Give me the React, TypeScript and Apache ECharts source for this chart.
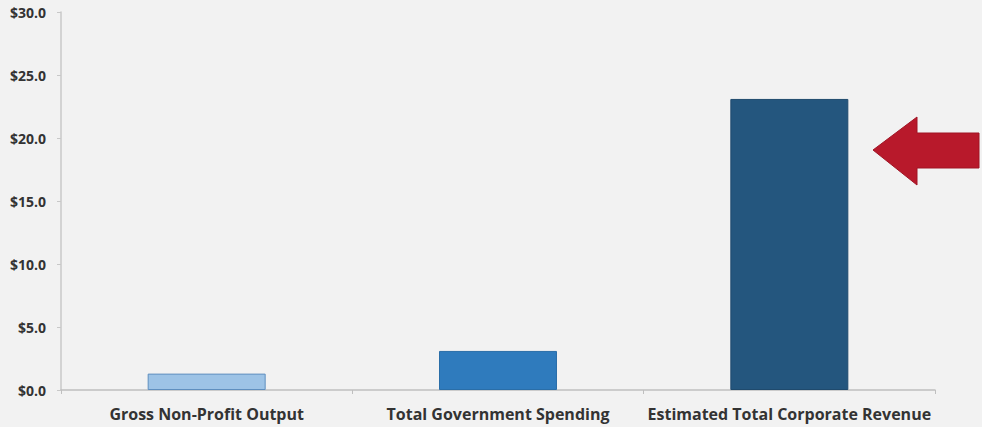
import React, { useEffect, useRef } from "react";
import * as echarts from "echarts";

const categories = ["Gross Non-Profit Output", "Total Government Spending", "Estimated Total Corporate Revenue"];
const values = [1.3, 3.1, 23.1];
const barColors = ["#9dc3e6", "#2f7bbd", "#24567e"];
const barBorders = ["#5f8fbf", "#2a6ea8", "#1f4a6d"];

export default function App() {
  const ref = useRef<HTMLDivElement>(null);
  useEffect(() => {
    if (!ref.current) return;
    const chart = echarts.init(ref.current, null, { renderer: "svg" });
    chart.setOption({
      animation: false,
      backgroundColor: "#f2f2f2",
      grid: { left: 61, right: 47, top: 12, bottom: 37 },
      xAxis: {
        type: "category",
        data: categories,
        axisLine: { lineStyle: { color: "#bfbfbf", width: 1.5 } },
        axisTick: { show: true, length: 4, lineStyle: { color: "#bfbfbf" } },
        axisLabel: {
          interval: 0,
          hideOverlap: false,
          color: "#333333",
          fontFamily: "Open Sans",
          fontWeight: "bold",
          fontSize: 16,
          margin: 16,
        },
      },
      yAxis: {
        type: "value",
        min: 0,
        max: 30,
        interval: 5,
        splitLine: { show: false },
        axisLine: { show: true, lineStyle: { color: "#c8c8c8", width: 1.5 } },
        axisTick: { show: true, length: 4, lineStyle: { color: "#c8c8c8" } },
        axisLabel: {
          color: "#333333",
          fontFamily: "Open Sans",
          fontWeight: "bold",
          fontSize: 14,
          margin: 15,
          formatter: (v: number) => "$" + v.toFixed(1),
        },
      },
      series: [
        {
          type: "bar",
          barWidth: "40.5%",
          data: values.map((v, i) => ({
            value: v,
            itemStyle: { color: barColors[i], borderColor: barBorders[i], borderWidth: 1 },
          })),
        },
      ],
      graphic: [
        {
          type: "polygon",
          shape: {
            points: [
              [873, 150],
              [917, 117],
              [917, 133],
              [979, 133],
              [979, 168],
              [917, 168],
              [917, 185],
            ],
          },
          style: { fill: "#b8192b", stroke: "#a01525", lineWidth: 1 },
        },
      ],
    });
    return () => chart.dispose();
  }, []);
  return <div ref={ref} style={{ position: "fixed", left: 0, top: 0, width: 982, height: 427 }} />;
}
